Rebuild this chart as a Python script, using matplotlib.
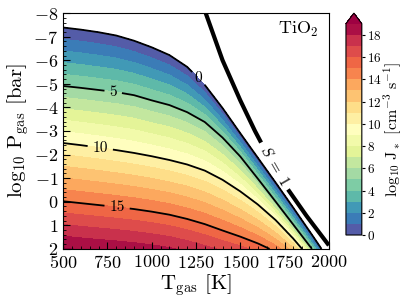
import numpy as np
import matplotlib
matplotlib.use('Agg')
import matplotlib.pyplot as plt

plt.rcParams['font.family'] = 'serif'
plt.rcParams['font.serif'] = ['cmr10']
plt.rcParams['mathtext.fontset'] = 'cm'
plt.rcParams['axes.formatter.use_mathtext'] = True

# contour line positions (log10 P_gas) of log10 J* read at each temperature node
T_nodes = [500, 600, 700, 800, 900, 1000, 1100, 1200, 1300, 1400, 1500, 1600, 1700, 1800, 1900, 2000]
P_J0 = [-7.39, -7.30, -7.19, -7.05, -6.83, -6.55, -6.22, -5.72, -4.95, -3.97, -2.90, -1.85, -0.80, 0.27, 1.36, 2.47]
P_J5 = [-4.91, -4.83, -4.74, -4.65, -4.52, -4.30, -4.10, -3.80, -3.38, -2.72, -1.92, -0.97, 0.0, 0.98, 1.96, 2.95]
P_J10 = [-2.49, -2.40, -2.30, -2.19, -2.07, -1.93, -1.77, -1.58, -1.32, -0.93, -0.44, 0.12, 0.78, 1.57, 2.45, 3.40]
P_J15 = [-0.02, 0.06, 0.14, 0.22, 0.31, 0.42, 0.55, 0.73, 0.95, 1.22, 1.48, 1.77, 2.12, 2.55, 3.05, 3.60]
P_J20 = [2.45, 2.52, 2.58, 2.63, 2.69, 2.77, 2.87, 3.04, 3.22, 3.37, 3.45, 3.60, 3.80, 4.10, 4.50, 5.00]
J_lines = [0, 5, 10, 15, 20]

# S = 1 curve
T_S1 = [1200, 1305, 1400, 1500, 1583, 1650, 1762, 1874, 2000]
P_S1 = [-10.4, -8.0, -6.0, -4.3, -3.0, -2.05, -0.6, 0.6, 1.85]

levels = np.arange(0, 20, 1)
cbar_ticks = np.arange(0, 19, 2)

Tf = np.linspace(500, 2000, 401)
Pf = np.linspace(-8, 2, 401)

lines = [np.interp(Tf, T_nodes, p) for p in (P_J0, P_J5, P_J10, P_J15, P_J20)]
J = np.zeros((len(Pf), len(Tf)))
for i in range(len(Tf)):
  xp = [lines[0][i] - 5] + [l[i] for l in lines]
  fp = [-10] + J_lines
  J[:, i] = np.interp(Pf, xp, fp, right=np.nan)
logS = Pf[:, None] - np.interp(Tf, T_S1, P_S1)[None, :]

fig = plt.figure(figsize=(4.07, 3.05), dpi=100)
ax = fig.add_axes([0.155, 0.184, 0.653, 0.773])
cax = fig.add_axes([0.850, 0.2295, 0.039, 0.7275])

cf = ax.contourf(Tf, Pf, J, levels=levels, cmap='Spectral_r', extend='max')
cs = ax.contour(Tf, Pf, J, levels=[0, 5, 10, 15], colors='k', linewidths=1.3)
labs = ax.clabel(cs, fmt='%d', fontsize=11, inline=True,
                 manual=[(1273, -5.3), (782, -4.6), (709, -2.24), (805, 0.22)])
for t in labs:
  t.set_rotation(0)

ss = ax.contour(Tf, Pf, logS, levels=[0], colors='k', linewidths=3)
slab = ax.clabel(ss, fmt={0: r'$S\ =\ 1$'}, fontsize=11, inline=True, manual=[(1690, -1.5)])
for t in slab:
  t.set_rotation(-60)

ax.text(0.96, 0.97, r'$\mathrm{TiO_2}$', transform=ax.transAxes, ha='right', va='top', fontsize=13)

ax.set_xlim(500, 2000)
ax.set_ylim(2, -8)
ax.set_xticks([500, 750, 1000, 1250, 1500, 1750, 2000])
ax.set_xticks(np.arange(500, 2001, 50), minor=True)
ax.set_yticks(np.arange(-8, 3, 1))
ax.set_yticks(np.arange(-8, 2.01, 0.2), minor=True)
ax.tick_params(which='both', direction='in', top=False, right=False, labelsize=13)
ax.tick_params(which='major', length=5)
ax.tick_params(which='minor', length=2.5)
ax.set_xlabel(r'$\mathrm{T_{gas}}$ [K]', fontsize=15, labelpad=1)
ax.set_ylabel(r'$\log_{10}\,\mathrm{P_{gas}}$ [bar]', fontsize=15, labelpad=2)

cb = fig.colorbar(cf, cax=cax, ticks=cbar_ticks)
cb.ax.tick_params(labelsize=9.5, length=2.5, pad=1.5)
cb.set_label(r'$\log_{10}\,\mathrm{J_*}$ $[\mathrm{cm^{-3}\ s^{-1}}]$', fontsize=11.5, labelpad=0)

plt.savefig('out.png', dpi=100)
